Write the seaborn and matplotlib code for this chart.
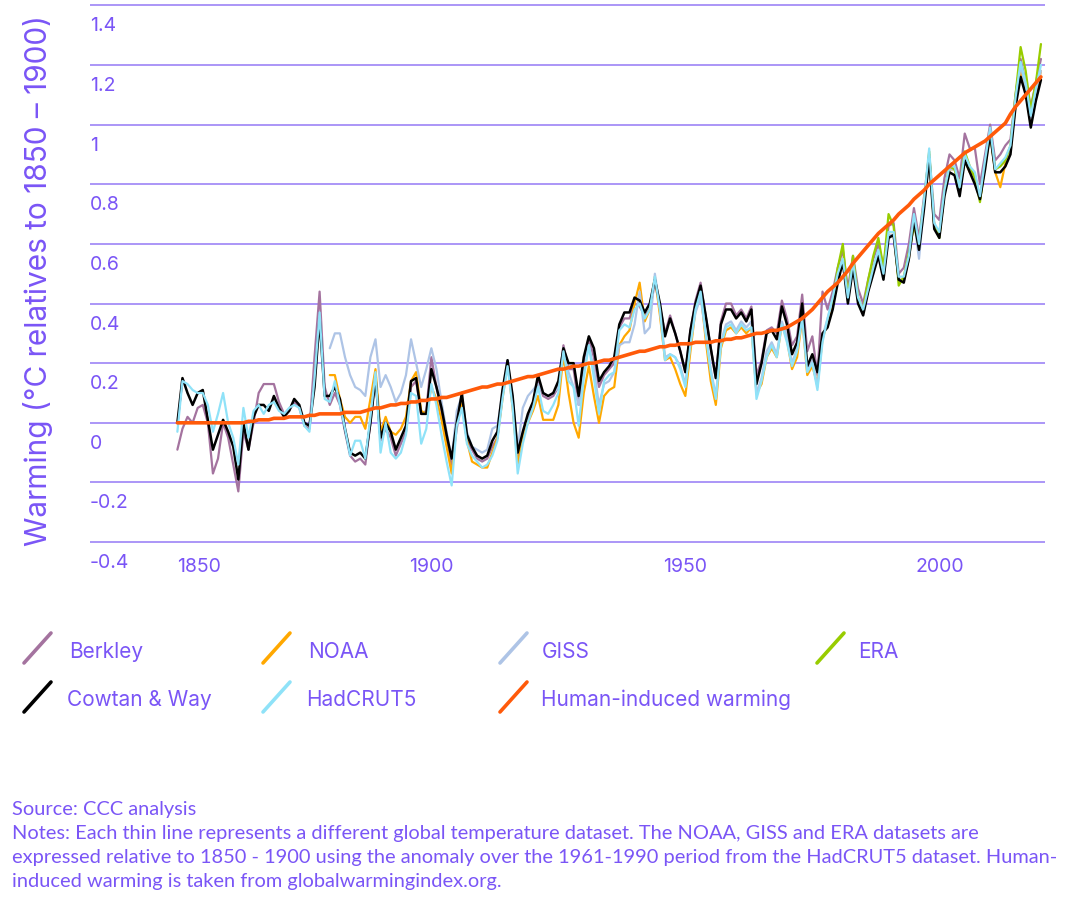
import numpy as np
import pandas as pd
import matplotlib
matplotlib.use("Agg")
import matplotlib.pyplot as plt
import seaborn as sns
from matplotlib.transforms import blended_transform_factory, ScaledTranslation
from matplotlib.lines import Line2D

# ---------------- data ----------------
cowtan_start = 1850
cowtan = [
    0.00, 0.15, 0.10, 0.06, 0.10, 0.11, 0.01, -0.09, -0.04, 0.01,
    -0.03, -0.08, -0.19, 0.00, -0.09, 0.02, 0.06, 0.06, 0.04, 0.09,
    0.05, 0.02, 0.04, 0.08, 0.06, 0.00, -0.01, 0.12, 0.35, 0.09,
    0.09, 0.12, 0.08, -0.02, -0.10, -0.11, -0.10, -0.12, 0.00, 0.15,
    -0.05, 0.00, -0.03, -0.09, -0.05, -0.01, 0.14, 0.15, 0.03, 0.03,
    0.18, 0.12, 0.05, -0.04, -0.12, 0.00, 0.10, -0.04, -0.08, -0.11,
    -0.12, -0.11, -0.06, -0.03, 0.11, 0.21, 0.09, -0.10, -0.03, 0.03,
    0.07, 0.16, 0.10, 0.09, 0.10, 0.14, 0.25, 0.20, 0.20, 0.09,
    0.22, 0.29, 0.25, 0.14, 0.17, 0.19, 0.22, 0.33, 0.37, 0.37,
    0.42, 0.41, 0.37, 0.40, 0.48, 0.40, 0.29, 0.35, 0.30, 0.24,
    0.17, 0.31, 0.40, 0.46, 0.36, 0.25, 0.15, 0.33, 0.38, 0.38,
    0.35, 0.37, 0.34, 0.38, 0.13, 0.20, 0.30, 0.31, 0.28, 0.39,
    0.33, 0.23, 0.27, 0.40, 0.19, 0.23, 0.17, 0.30, 0.32, 0.38,
    0.47, 0.54, 0.40, 0.52, 0.40, 0.36, 0.44, 0.50, 0.56, 0.48,
    0.62, 0.63, 0.48, 0.47, 0.55, 0.68, 0.58, 0.72, 0.89, 0.65,
    0.62, 0.76, 0.84, 0.83, 0.76, 0.88, 0.84, 0.80, 0.75, 0.85,
    0.97, 0.84, 0.84, 0.86, 0.90, 1.06, 1.16, 1.10, 0.99, 1.08, 1.15]

berkley_start = 1850
berkley = [
    -0.09, -0.02, 0.02, 0.00, 0.05, 0.06, 0.00, -0.17, -0.12, 0.00,
    -0.05, -0.14, -0.23, -0.03, -0.09, 0.00, 0.10, 0.13, 0.13, 0.13,
    0.07, 0.03, 0.04, 0.07, 0.05, -0.01, -0.02, 0.22, 0.44, 0.12,
    0.06, 0.10, 0.06, -0.03, -0.11, -0.13, -0.12, -0.14, 0.00, 0.16,
    -0.06, -0.02, -0.05, -0.11, -0.07, -0.03, 0.12, 0.14, 0.03, 0.04,
    0.22, 0.12, 0.04, -0.06, -0.14, -0.02, 0.08, -0.06, -0.09, -0.12,
    -0.13, -0.12, -0.08, -0.05, 0.09, 0.20, 0.07, -0.13, -0.05, 0.01,
    0.05, 0.14, 0.09, 0.08, 0.09, 0.12, 0.26, 0.18, 0.18, 0.06,
    0.20, 0.28, 0.22, 0.12, 0.16, 0.18, 0.20, 0.32, 0.35, 0.35,
    0.40, 0.39, 0.36, 0.38, 0.47, 0.39, 0.30, 0.36, 0.30, 0.24,
    0.17, 0.31, 0.41, 0.47, 0.36, 0.25, 0.15, 0.34, 0.40, 0.40,
    0.36, 0.38, 0.35, 0.39, 0.16, 0.21, 0.31, 0.32, 0.30, 0.41,
    0.35, 0.26, 0.29, 0.43, 0.24, 0.29, 0.16, 0.44, 0.38, 0.44,
    0.52, 0.58, 0.45, 0.56, 0.45, 0.40, 0.48, 0.55, 0.60, 0.52,
    0.66, 0.67, 0.50, 0.52, 0.60, 0.72, 0.62, 0.76, 0.90, 0.70,
    0.68, 0.82, 0.90, 0.88, 0.82, 0.97, 0.92, 0.92, 0.80, 0.90,
    1.00, 0.88, 0.90, 0.93, 0.95, 1.10, 1.22, 1.14, 1.06, 1.14, 1.22]

hadcrut_start = 1850
hadcrut = [
    -0.03, 0.14, 0.13, 0.11, 0.10, 0.10, 0.06, -0.03, 0.03, 0.10,
    0.00, -0.05, -0.14, 0.05, -0.05, 0.04, 0.06, 0.03, 0.06, 0.07,
    0.04, 0.03, 0.05, 0.06, 0.05, -0.01, -0.03, 0.15, 0.37, 0.08,
    0.07, 0.14, 0.06, -0.02, -0.11, -0.06, -0.06, -0.12, 0.02, 0.17,
    -0.10, 0.00, -0.10, -0.12, -0.10, -0.04, 0.10, 0.09, -0.07, -0.02,
    0.13, 0.06, -0.04, -0.13, -0.21, -0.01, 0.05, -0.07, -0.11, -0.13,
    -0.15, -0.14, -0.11, -0.06, 0.08, 0.19, 0.05, -0.17, -0.07, 0.00,
    0.05, 0.12, 0.04, 0.03, 0.06, 0.10, 0.24, 0.14, 0.12, -0.01,
    0.15, 0.26, 0.15, 0.03, 0.14, 0.16, 0.17, 0.31, 0.33, 0.32,
    0.38, 0.40, 0.35, 0.38, 0.49, 0.38, 0.21, 0.23, 0.22, 0.18,
    0.12, 0.26, 0.38, 0.44, 0.30, 0.17, 0.08, 0.26, 0.32, 0.33,
    0.30, 0.33, 0.31, 0.32, 0.08, 0.14, 0.22, 0.26, 0.22, 0.33,
    0.27, 0.19, 0.24, 0.35, 0.17, 0.20, 0.11, 0.27, 0.35, 0.42,
    0.50, 0.55, 0.42, 0.54, 0.42, 0.38, 0.45, 0.52, 0.58, 0.50,
    0.64, 0.64, 0.49, 0.49, 0.56, 0.70, 0.60, 0.75, 0.92, 0.67,
    0.64, 0.78, 0.86, 0.86, 0.79, 0.90, 0.86, 0.84, 0.76, 0.88,
    0.99, 0.85, 0.87, 0.89, 0.93, 1.09, 1.21, 1.14, 1.03, 1.12, 1.20]

noaa_start = 1880
noaa = [
    0.16, 0.16, 0.08, 0.02, 0.00, 0.02, 0.02, -0.02, 0.08, 0.18,
    -0.03, 0.02, -0.03, -0.04, -0.02, 0.02, 0.14, 0.17, 0.04, 0.03,
    0.12, 0.08, 0.01, -0.08, -0.17, 0.00, 0.07, -0.06, -0.13, -0.14,
    -0.15, -0.15, -0.10, -0.05, 0.08, 0.20, 0.05, -0.14, -0.05, 0.00,
    0.04, 0.09, 0.01, 0.01, 0.01, 0.06, 0.23, 0.10, 0.00, -0.05,
    0.10, 0.19, 0.09, 0.00, 0.09, 0.11, 0.12, 0.26, 0.29, 0.31,
    0.40, 0.47, 0.34, 0.38, 0.49, 0.36, 0.21, 0.22, 0.18, 0.13,
    0.09, 0.24, 0.38, 0.44, 0.28, 0.14, 0.06, 0.25, 0.31, 0.32,
    0.30, 0.32, 0.30, 0.32, 0.10, 0.13, 0.22, 0.25, 0.22, 0.33,
    0.28, 0.18, 0.22, 0.35, 0.16, 0.19, 0.13, 0.28, 0.34, 0.40,
    0.48, 0.55, 0.42, 0.54, 0.41, 0.38, 0.45, 0.52, 0.57, 0.50,
    0.63, 0.63, 0.48, 0.48, 0.55, 0.68, 0.59, 0.74, 0.90, 0.66,
    0.63, 0.77, 0.85, 0.85, 0.78, 0.88, 0.84, 0.83, 0.75, 0.86,
    0.97, 0.84, 0.79, 0.87, 0.91, 1.07, 1.18, 1.11, 1.00, 1.10, 1.18]

giss_start = 1880
giss = [
    0.25, 0.30, 0.30, 0.22, 0.16, 0.12, 0.11, 0.09, 0.22, 0.28,
    0.12, 0.16, 0.12, 0.07, 0.10, 0.16, 0.28, 0.20, 0.12, 0.18,
    0.25, 0.18, 0.07, -0.03, -0.12, 0.04, 0.09, -0.03, -0.08, -0.09,
    -0.10, -0.09, -0.02, -0.01, 0.10, 0.21, 0.08, -0.09, 0.05, 0.09,
    0.11, 0.13, 0.10, 0.09, 0.10, 0.12, 0.25, 0.17, 0.12, 0.06,
    0.18, 0.26, 0.18, 0.06, 0.13, 0.14, 0.17, 0.26, 0.27, 0.27,
    0.33, 0.44, 0.30, 0.32, 0.50, 0.38, 0.22, 0.23, 0.22, 0.19,
    0.13, 0.27, 0.37, 0.42, 0.30, 0.18, 0.09, 0.27, 0.33, 0.34,
    0.31, 0.34, 0.32, 0.34, 0.10, 0.15, 0.24, 0.27, 0.23, 0.34,
    0.29, 0.20, 0.25, 0.37, 0.18, 0.21, 0.12, 0.29, 0.35, 0.41,
    0.48, 0.55, 0.41, 0.53, 0.41, 0.37, 0.45, 0.51, 0.57, 0.49,
    0.63, 0.63, 0.48, 0.48, 0.55, 0.68, 0.55, 0.73, 0.89, 0.66,
    0.63, 0.77, 0.85, 0.85, 0.78, 0.89, 0.85, 0.83, 0.75, 0.87,
    0.98, 0.85, 0.86, 0.88, 0.92, 1.08, 1.20, 1.12, 1.02, 1.11, 1.18]

era_start = 1979
era = [
    0.40, 0.52, 0.60, 0.42, 0.56, 0.42, 0.38, 0.48, 0.56, 0.62,
    0.52, 0.70, 0.66, 0.46, 0.49, 0.57, 0.66, 0.60, 0.74, 0.91,
    0.66, 0.62, 0.78, 0.86, 0.85, 0.79, 0.91, 0.86, 0.82, 0.74,
    0.87, 0.97, 0.85, 0.86, 0.88, 0.93, 1.10, 1.26, 1.18, 1.05,
    1.14, 1.27]

human_start = 1850
human = [
    0.000, 0.000, 0.000, 0.000, 0.000, 0.000, 0.000, 0.000, 0.000, 0.000,
    0.000, 0.000, 0.000, 0.000, 0.005, 0.005, 0.010, 0.010, 0.010, 0.015,
    0.015, 0.015, 0.020, 0.020, 0.020, 0.020, 0.025, 0.025, 0.030, 0.030,
    0.030, 0.030, 0.030, 0.035, 0.035, 0.035, 0.035, 0.040, 0.045, 0.050,
    0.050, 0.055, 0.060, 0.060, 0.065, 0.065, 0.070, 0.070, 0.075, 0.075,
    0.080, 0.080, 0.085, 0.085, 0.090, 0.095, 0.100, 0.105, 0.110, 0.115,
    0.120, 0.120, 0.125, 0.130, 0.130, 0.135, 0.140, 0.145, 0.150, 0.155,
    0.155, 0.160, 0.165, 0.170, 0.175, 0.180, 0.180, 0.185, 0.190, 0.190,
    0.195, 0.200, 0.200, 0.205, 0.210, 0.210, 0.215, 0.220, 0.225, 0.230,
    0.235, 0.240, 0.240, 0.245, 0.250, 0.255, 0.255, 0.260, 0.260, 0.265,
    0.265, 0.265, 0.270, 0.270, 0.270, 0.270, 0.275, 0.275, 0.280, 0.280,
    0.285, 0.285, 0.290, 0.295, 0.300, 0.300, 0.305, 0.310, 0.310, 0.315,
    0.320, 0.330, 0.340, 0.350, 0.365, 0.380, 0.400, 0.420, 0.440, 0.455,
    0.470, 0.490, 0.510, 0.535, 0.555, 0.575, 0.595, 0.615, 0.635, 0.650,
    0.665, 0.680, 0.700, 0.715, 0.730, 0.750, 0.765, 0.780, 0.800, 0.815,
    0.830, 0.845, 0.860, 0.875, 0.890, 0.905, 0.915, 0.925, 0.935, 0.945,
    0.960, 0.975, 0.990, 1.005, 1.035, 1.060, 1.080, 1.100, 1.120, 1.140, 1.160]

y_ticks = [-0.4, -0.2, 0.0, 0.2, 0.4, 0.6, 0.8, 1.0, 1.2, 1.4]
y_tick_labels = ["-0.4", "-0.2", "0", "0.2", "0.4", "0.6", "0.8", "1", "1.2", "1.4"]
x_ticks = [1850, 1900, 1950, 2000]
x_tick_labels = ["1850", "1900", "1950", "2000"]

legend_row1 = ["Berkley", "NOAA", "GISS", "ERA"]
legend_row2 = ["Cowtan & Way", "HadCRUT5", "Human-induced warming"]

y_label = "Warming (\u00b0C relatives to 1850 \u2013 1900)"
notes = [
    "Source: CCC analysis",
    "Notes: Each thin line represents a different global temperature dataset. The NOAA, GISS and ERA datasets are",
    "expressed relative to 1850 - 1900 using the anomaly over the 1961-1990 period from the HadCRUT5 dataset. Human-",
    "induced warming is taken from globalwarmingindex.org.",
]

# ---------------- style ----------------
TEXT = "#7a55f6"
GRID = "#9479f5"
colors = {
    "Berkley": "#a4739f",
    "NOAA": "#ffa800",
    "GISS": "#aec4e6",
    "ERA": "#98cc00",
    "Cowtan & Way": "#000000",
    "HadCRUT5": "#8fe2f8",
    "Human-induced warming": "#ff5a0a",
}

sns.set_theme(style="white")
plt.rcParams["font.family"] = ["Inter", "DejaVu Sans"]

W, H = 1067, 903
fig = plt.figure(figsize=(W / 100, H / 100), dpi=100)
fig.patch.set_facecolor("white")

ax_left, ax_right, ax_top, ax_bottom = 90, 1045, 5.4, 544
ax = fig.add_axes([ax_left / W, 1 - ax_bottom / H, (ax_right - ax_left) / W, (ax_bottom - ax_top) / H])

series = [
    ("Berkley", berkley_start, berkley, 1.6),
    ("NOAA", noaa_start, noaa, 1.6),
    ("GISS", giss_start, giss, 1.6),
    ("ERA", era_start, era, 1.6),
    ("Cowtan & Way", cowtan_start, cowtan, 1.8),
    ("HadCRUT5", hadcrut_start, hadcrut, 1.6),
    ("Human-induced warming", human_start, human, 2.6),
]
for name, start, vals, lw in series:
    df = pd.DataFrame({"year": np.arange(start, start + len(vals)), "value": vals})
    sns.lineplot(data=df, x="year", y="value", ax=ax, color=colors[name],
                 linewidth=lw, legend=False, errorbar=None, estimator=None,
                 solid_joinstyle="round")

ax.set_xlim(1832.8, 2020.8)
ax.set_ylim(-0.403, 1.403)
ax.set_xlabel("")
ax.set_ylabel("")
for s in ax.spines.values():
    s.set_visible(False)
ax.set_xticks([])
ax.set_yticks(y_ticks)
ax.tick_params(left=False, bottom=False, labelleft=False, labelbottom=False)
ax.grid(axis="y", color=GRID, linewidth=1.1)
ax.grid(axis="x", visible=False)
ax.set_facecolor("white")

# y tick labels: left aligned, just below each gridline
ytr = blended_transform_factory(ax.transAxes, ax.transData) + ScaledTranslation(0, -0.25, fig.dpi_scale_trans)
for v, lab in zip(y_ticks, y_tick_labels):
    ax.text(0.0, v, lab, transform=ytr, ha="left", va="baseline",
            fontsize=14, color=TEXT, clip_on=False)

# x tick labels
xtr = blended_transform_factory(ax.transData, ax.transAxes) + ScaledTranslation(0, -0.28, fig.dpi_scale_trans)
for i, (v, lab) in enumerate(zip(x_ticks, x_tick_labels)):
    ax.text(v, 0.0, lab, transform=xtr, ha="left" if i == 0 else "center",
            va="baseline", fontsize=14, color=TEXT, clip_on=False)

# y axis title
fig.text(38 / W, 1 - 280 / H, y_label, rotation=90, ha="center", va="center",
         fontsize=21.5, color=TEXT)

# legend (slash-shaped handles)
def legend_item(x_handle, y_bottom, y_top, x_text, y_base, label):
    fig.add_artist(Line2D([x_handle / W, (x_handle + 27) / W],
                          [1 - y_bottom / H, 1 - y_top / H],
                          transform=fig.transFigure, color=colors[label],
                          linewidth=2.6, solid_capstyle="round"))
    fig.text(x_text / W, 1 - y_base / H, label, ha="left", va="baseline",
             fontsize=15, color=TEXT)

row1_handle_x = [24, 263, 500, 817]
row1_text_x = [69, 308, 542, 858]
row2_handle_x = [24, 263, 500]
row2_text_x = [67, 306, 541]
for hx, tx, lab in zip(row1_handle_x, row1_text_x, legend_row1):
    legend_item(hx, 664, 634, tx, 658, lab)
for hx, tx, lab in zip(row2_handle_x, row2_text_x, legend_row2):
    legend_item(hx, 713, 683, tx, 706, lab)

# source / notes, sized so that the longest line spans the reference width
note_baselines = [815, 839, 863, 887]
note_texts = []
for txt, yb in zip(notes, note_baselines):
    note_texts.append(fig.text(12 / W, 1 - yb / H, txt, ha="left", va="baseline",
                               fontsize=11.5, color=TEXT, family=["Lato", "DejaVu Sans"]))
fig.canvas.draw()
rend = fig.canvas.get_renderer()
w2 = note_texts[2].get_window_extent(rend).width
scale = 1046 / w2
for t in note_texts:
    t.set_fontsize(11.5 * scale)

fig.savefig("out.png", dpi=100, facecolor="white")
